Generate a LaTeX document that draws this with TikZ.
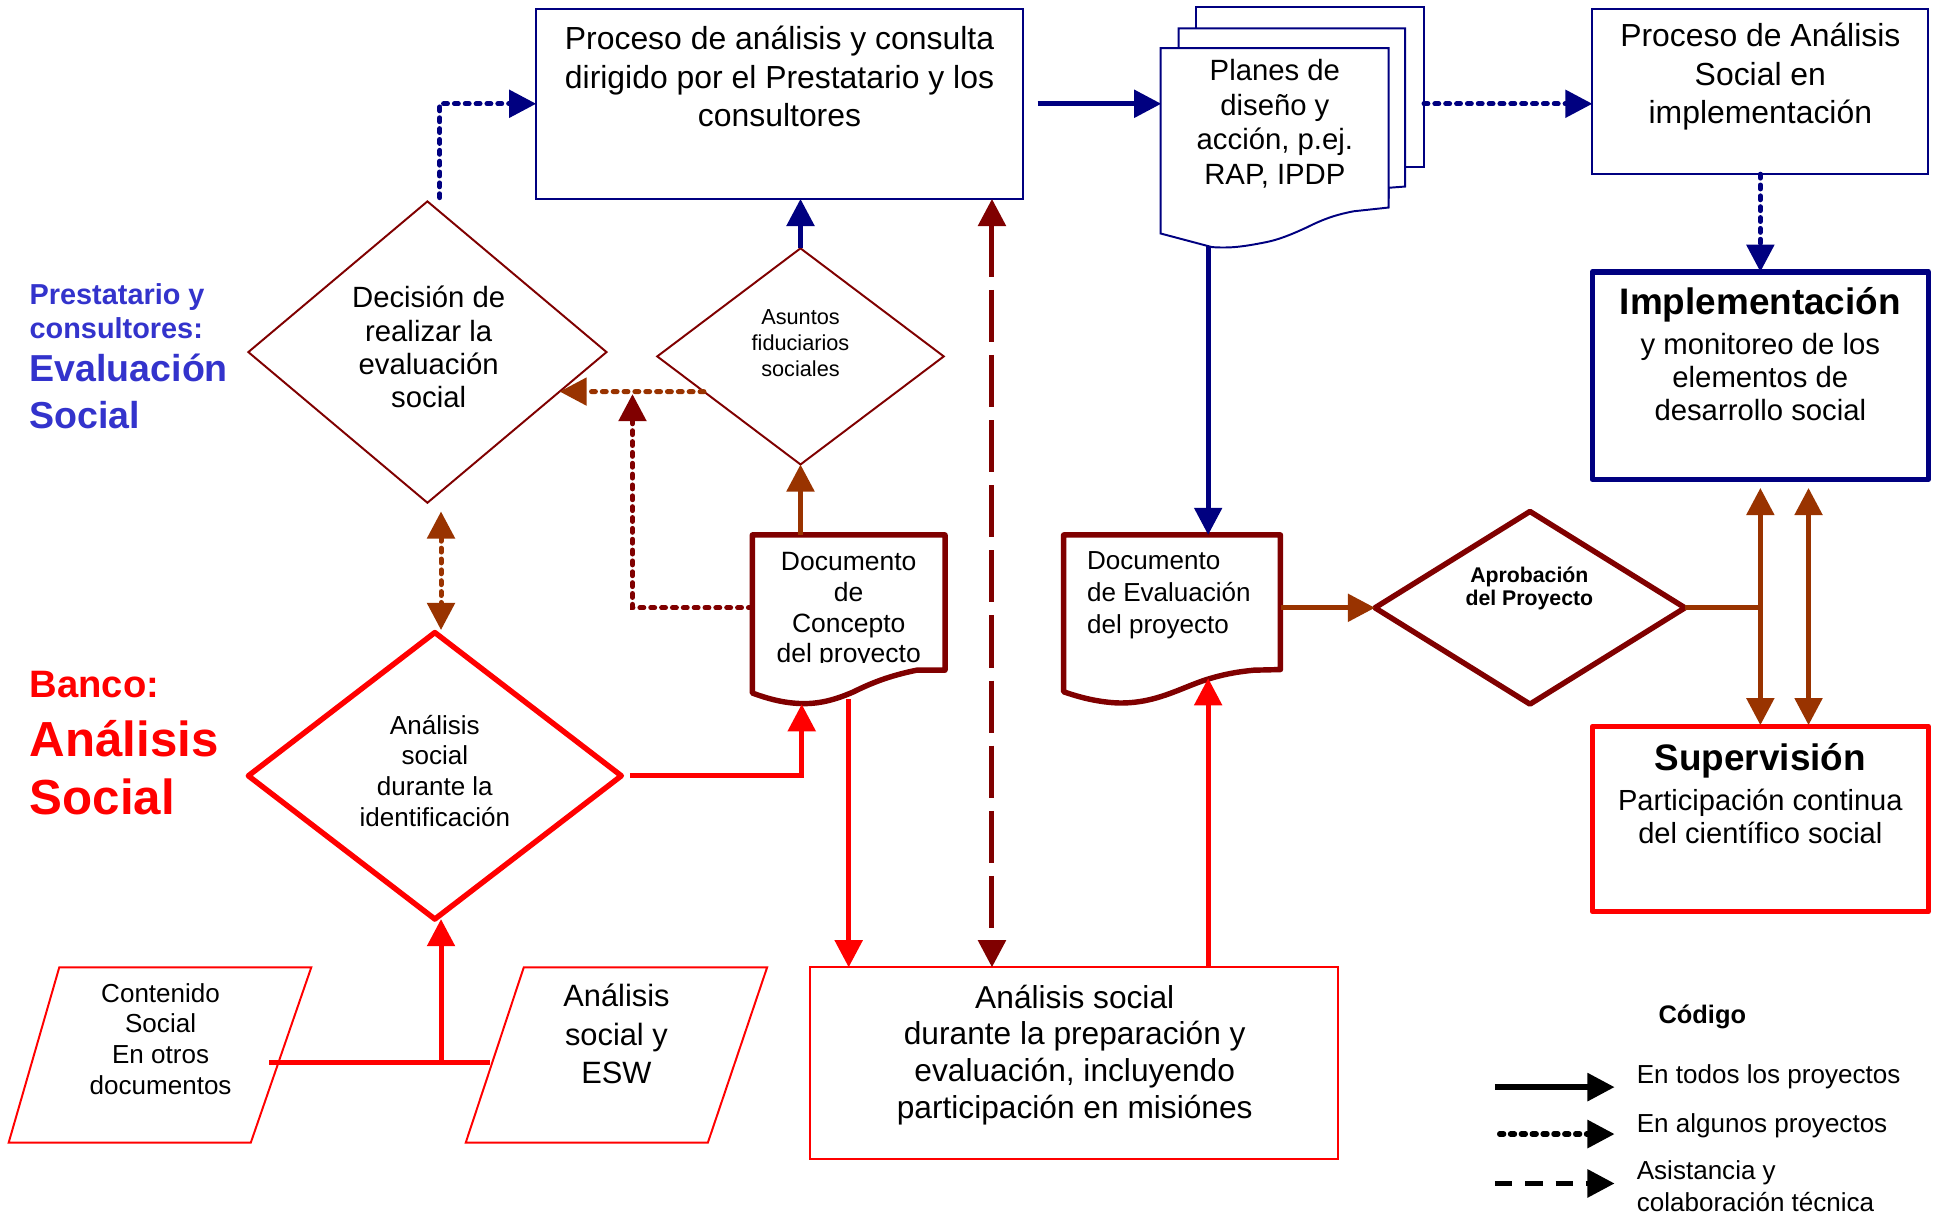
\documentclass[tikz,border=0pt]{standalone}
\usepackage{fontspec}
\setmainfont{Liberation Sans}
\usetikzlibrary{arrows.meta,shapes.geometric,calc}

\definecolor{navyblue}{RGB}{0,0,128}
\definecolor{darkred}{RGB}{128,0,0}
\definecolor{rust}{RGB}{153,51,0}
\definecolor{brightred}{RGB}{255,0,0}
\definecolor{labelblue}{RGB}{51,51,204}

\newcommand\fsz[2]{\fontsize{#1}{#2}\selectfont}

\tikzset{
  box/.style={rectangle, inner sep=0pt, outer sep=0pt},
  dia/.style={diamond, inner sep=0pt, outer sep=0pt},
  thinline/.style={line width=0.9pt},
  thickline/.style={line width=2.5pt, line join=round},
  conn/.style={line width=2.3pt},
  dotline/.style={line cap=round, dash pattern=on 1.8pt off 3.2pt},
  longdash/.style={dash pattern=on 24pt off 6pt},
  legdash/.style={dash pattern=on 8pt off 6pt},
  tipend/.style={-{Triangle[length=12.5pt,width=12.5pt]}},
  tipboth/.style={{Triangle[length=12.5pt,width=12.5pt]}-{Triangle[length=12.5pt,width=12.5pt]}},
  txt/.style={inner sep=0pt, outer sep=0pt, align=center},
  ltxt/.style={inner sep=0pt, outer sep=0pt, align=left, anchor=west},
}

\begin{document}
\begin{tikzpicture}[x=0.02cm, y=-0.02cm]
\useasboundingbox (0,0) rectangle (1568,985);
\fill[white] (0,0) rectangle (1568,985);

% ---------- side labels ----------
\node[ltxt, text=labelblue, font=\bfseries\fsz{13.3}{15.9}] (lblA) at (24,252) {Prestatario y\\consultores:};
\node[ltxt, text=labelblue, font=\bfseries\fsz{17.3}{21.5}] (lblB) at (24,317) {Evaluación\\Social};
\node[ltxt, text=brightred, font=\bfseries\fsz{17.6}{20}] (lblC) at (24,554) {Banco:};
\node[ltxt, text=brightred, font=\bfseries\fsz{22.7}{26.6}] (lblD) at (24,621.5) {Análisis\\Social};

% ---------- borrower process ----------
\node[box, draw=navyblue, thinline, minimum width=7.88cm, minimum height=3.08cm] (proc) at (631,84) {};
\node[txt, font=\fsz{14.7}{17.6}] (proctxt) at (631,62) {Proceso de análisis y consulta\\dirigido por el Prestatario y los\\consultores};

% ---------- stacked plan documents ----------
\node[box, draw=navyblue, thinline, fill=white, minimum width=3.69cm, minimum height=2.58cm] (pback) at (1060.5,70.5) {};
\draw[navyblue, thinline, fill=white] (954,23) -- (1137.5,23) -- (1137.5,151) -- (1124,152) -- (1124,160) -- (954,160) -- cycle;
\node[box, minimum width=3.68cm, minimum height=2.58cm] (planes) at (1032,103.5) {};
\draw[navyblue, thinline, fill=white] (939.5,39) -- (1124,39) -- (1124,168)
  -- (1096,171) .. controls (1080,174) and (1070,178) .. (1058,184)
  .. controls (1045,190) and (1035,194) .. (1025,196)
  .. controls (1005,200) and (995,201) .. (981,200) -- (939.5,189) -- cycle;
\node[txt, font=\fsz{13.5}{15.9}] (planestxt) at (1032,100) {Planes de\\diseño y\\acción, p.ej.\\RAP, IPDP};

% ---------- social analysis in implementation ----------
\node[box, draw=navyblue, thinline, minimum width=5.44cm, minimum height=2.68cm] (pimpl) at (1425,74) {};
\node[txt, font=\fsz{14.7}{17.6}] (pimpltxt) at (1425,62) {Proceso de Análisis\\Social en\\implementación};

\node[box, draw=navyblue, thickline, minimum width=5.44cm, minimum height=3.36cm] (impl) at (1425,304) {};
\node[txt, font=\bfseries\fsz{17}{20}] (impltitle) at (1425,247) {Implementación};
\node[txt, font=\fsz{13.5}{15.3}] (impltxt) at (1425,305) {y monitoreo de los\\elementos de\\desarrollo social};

\node[box, draw=brightred, thickline, minimum width=5.44cm, minimum height=3.0cm] (sup) at (1425,663) {};
\node[txt, font=\bfseries\fsz{17}{20}] (suptitle) at (1425,616) {Supervisión};
\node[txt, font=\fsz{13.4}{15.3}] (suptxt) at (1425,661) {Participación continua\\del científico social};

% ---------- approval ----------
\node[dia, draw=darkred, thickline, minimum width=5.02cm, minimum height=3.12cm] (aprob) at (1238.5,492) {};
\node[txt, font=\bfseries\fsz{9.8}{10.8}] (aprobtxt) at (1238,476.5) {Aprobación\\del Proyecto};

% ---------- appraisal document ----------
\node[box, minimum width=3.54cm, minimum height=2.2cm] (deval) at (948.5,488) {};
\draw[darkred, thickline, fill=white] (861,433) -- (1036.5,433) -- (1036.5,542)
  -- (1015,542.5) .. controls (1000,544) and (990,546) .. (977,550)
  .. controls (955,557) and (935,570) .. (904,569)
  .. controls (885,568) and (870,563) .. (861,560) -- cycle;
\node[ltxt, font=\fsz{12}{14.7}] (devaltxt) at (880,482) {Documento\\de Evaluación\\del proyecto};

% ---------- concept document ----------
\node[box, minimum width=3.12cm, minimum height=2.22cm] (dconc) at (687,488.5) {};
\draw[darkred, thickline, fill=white] (609,433) -- (765,433) -- (765,542.5)
  -- (742,542.5) .. controls (720,547) and (705,553) .. (691,560)
  .. controls (675,567) and (662,570) .. (648,569.5)
  .. controls (633,569) and (620,565) .. (609,561) -- cycle;
\begin{scope}
  \clip (610,440) rectangle (764,536);
  \node[txt, font=\fsz{12.2}{14.2}] (dconctxt) at (687,494) {Documento\\de\\Concepto\\del proyecto};
\end{scope}

% ---------- preparation analysis ----------
\node[box, draw=brightred, thinline, minimum width=8.54cm, minimum height=3.1cm] (prep) at (869.5,860.5) {};
\node[txt, font=\fsz{14.6}{17}] (preptxt) at (870,854) {Análisis social\\durante la preparación y\\evaluación, incluyendo\\participación en misiónes};

% ---------- diamonds ----------
\node[dia, draw=darkred, thinline, minimum width=5.8cm, minimum height=4.88cm] (decision) at (346,285) {};
\node[txt, font=\fsz{13.5}{15.3}] (decisiontxt) at (347,281) {Decisión de\\realizar la\\evaluación\\social};

\node[dia, draw=darkred, thinline, minimum width=4.64cm, minimum height=3.5cm] (asuntos) at (648,288.5) {};
\node[txt, font=\fsz{10}{11.9}] (asuntostxt) at (648,278) {Asuntos\\fiduciarios\\sociales};

\node[dia, draw=brightred, thickline, minimum width=6.04cm, minimum height=4.64cm] (ident) at (352,628) {};
\node[txt, font=\fsz{12}{14.2}] (identtxt) at (352,624) {Análisis\\social\\durante la\\identificación};

% ---------- input parallelograms ----------
\draw[brightred, thinline] (48,783) -- (252,783) -- (203,925) -- (7,925) -- cycle;
\node[txt, font=\fsz{12}{14.2}] (conttxt) at (130,841) {Contenido\\Social\\En otros\\documentos};
\draw[brightred, thinline] (424,783) -- (621,783) -- (573,925) -- (377,925) -- cycle;
\node[txt, font=\fsz{14.2}{17.6}] (eswtxt) at (499,837) {Análisis\\social y\\ESW};

% ---------- connector end points ----------
\coordinate (decTop) at (356,160);
\coordinate (plBot) at (978,199);
\coordinate (fidL) at ($(asuntos.west)!0.326!(asuntos.south)$);
\coordinate (decR) at ($(decision.east)!0.262!(decision.south)$);
\coordinate (fidArrow) at (512,319);
\coordinate (decBot) at (357,414);
\coordinate (idTop) at (357,510);
\coordinate (xMid) at (803,0);
\coordinate (concBot) at (649,570);
\coordinate (concOut) at (687,566);
\coordinate (evalBot) at (978,549);
\coordinate (contR) at (218,860);
\coordinate (eswL) at (397,860);
\coordinate (joinIn) at (357,860);
\coordinate (splitA) at (1425,492);
\coordinate (implA) at (1425,395);
\coordinate (supA) at (1425,587);
\coordinate (implB) at (1464,395);
\coordinate (supB) at (1464,587);

% ---------- connectors ----------
\draw[navyblue, conn, dotline, tipend] (decTop) |- (proc.west);
\draw[navyblue, conn, tipend] ([xshift=0.24cm]proc.east) -- (planes.west |- proc.east);
\draw[navyblue, conn, dotline, tipend] (pback.east |- proc.east) -- (pimpl.west |- proc.east);
\draw[navyblue, conn, dotline, tipend] (pimpl.south) -- (impl.north);
\draw[navyblue, conn, tipend] (plBot) -- (deval.north -| plBot);
\draw[navyblue, conn, tipend] (asuntos.north) -- (proc.south -| asuntos.north);

\draw[rust, conn, dotline, tipend] (fidL) -- (decR);
\draw[darkred, conn, dotline, tipend] (dconc.west |- 0,492) -| (fidArrow);
\draw[rust, conn, tipend] (dconc.north -| asuntos.south) -- (asuntos.south);
\draw[rust, conn, dotline, tipboth] (decBot) -- (idTop);
\draw[darkred, conn, longdash, tipboth] (proc.south -| xMid) -- (prep.north -| xMid);

\draw[brightred, conn, tipend] ([xshift=0.14cm]ident.east) -| (concBot);
\draw[brightred, conn, tipend] (concOut) -- (prep.north -| concOut);
\draw[brightred, conn, tipend] (prep.north -| evalBot) -- (evalBot);
\draw[brightred, conn] (contR) -- (eswL);
\draw[brightred, conn, tipend] (joinIn) -- (ident.south -| joinIn);

\draw[rust, conn, tipend] (deval.east |- aprob.west) -- (aprob.west);
\draw[rust, conn] (aprob.east) -- (splitA);
\draw[rust, conn, tipboth] (implA) -- (supA);
\draw[rust, conn, tipboth] (implB) -- (supB);

% ---------- legend ----------
\node[txt, font=\bfseries\fsz{11.7}{14}] (code) at (1378,823) {Código};
\coordinate (leg1a) at (1210,880);
\coordinate (leg1b) at (1307,880);
\coordinate (leg2a) at (1214,918);
\coordinate (leg2b) at (1307,918);
\coordinate (leg3a) at (1210,958);
\coordinate (leg3b) at (1307,958);
\draw[black, conn, line width=2.5pt, tipend] (leg1a) -- (leg1b);
\draw[black, conn, line width=2.5pt, dotline, tipend] (leg2a) -- (leg2b);
\draw[black, conn, line width=2.5pt, legdash, tipend] (leg3a) -- (leg3b);
\node[ltxt, font=\fsz{12}{14.7}] (leg1) at (1325,872) {En todos los proyectos};
\node[ltxt, font=\fsz{12}{14.7}] (leg2) at (1325,911) {En algunos proyectos};
\node[ltxt, font=\fsz{12}{14.7}] (leg3) at (1325,960) {Asistancia y\\colaboración técnica};
\end{tikzpicture}
\end{document}
